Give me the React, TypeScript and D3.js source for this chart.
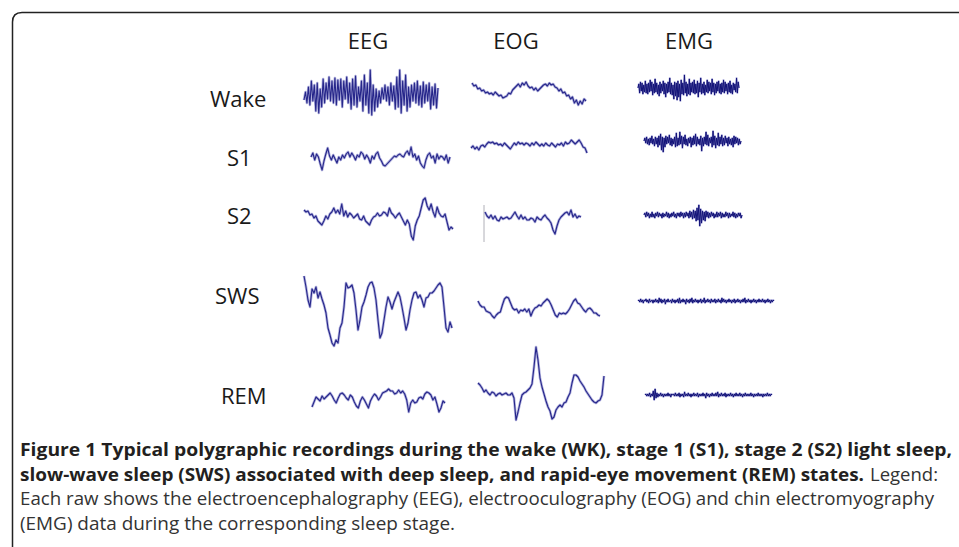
import React from "react";
import * as d3 from "d3";

const stages = ["Wake", "S1", "S2", "SWS", "REM"];
const channels = ["EEG", "EOG", "EMG"];

// traces (arbitrary units, up is positive)
const wakeEEG = [-5, 3, -8, 8, -10, 14, -6, 10, -16, 12, -18, 6, -12, 16, -8, 12, -4, 18, -6, 14, -8, 17, -10, 15, -5, 16, -12, 14, -4, 18, -8, 12, -14, 16, -10, 19, -12, 8, -6, 14, -16, 20, -10, 12, -18, 25, -20, 10, -16, 6, -12, 4, -8, 7, -4, 10, -6, 8, -10, 12, -6, 9, -14, 18, -12, 25, -18, 14, -10, 20, -16, 8, -12, 10, -6, 12, -8, 14, -10, 9, -12, 13, -8, 10, -6, 12, -14, 8, -10, 11, -13, 7];
const wakeEOG = [12, 9, 10, 6, 7, 4, 5, 2, 3, 1, 2, 0, 3, 1, -1, 0, -3, -2, -1, 2, 1, 5, 7, 9, 11, 8, 12, 10, 13, 9, 7, 8, 5, 7, 4, 6, 8, 10, 11, 9, 12, 10, 11, 8, 7, 4, 6, 2, 3, -1, 0, -4, -2, -8, -5, -10, -6, -9, -4, -6];
const wakeEMG = [0, 4, -5, 6, -3, 5, -6, 3, -4, 7, -5, 4, -6, 5, -4, 8, -3, 6, -7, 4, -5, 9, -4, 5, -6, 3, -8, 6, -5, 4, -3, 7, -6, 5, -9, 4, -5, 6, -4, 10, -6, 5, -7, 3, -11, 6, -8, 5, -12, 7, -9, 4, -13, 8, -6, 5, -7, 13, -5, 6, -8, 4, -6, 9, -7, 5, -4, 6, -5, 8, -6, 4, -5, 7, -9, 5, -4, 10, -6, 4, -5, 6, -7, 3, -4, 8, -5, 6, -3, 5, -6, 9, -4, 5, -7, 4, -5, 6, -3, 7, -5, 4, -6, 5, -4, 8, -5, 6, -3, 4, -6, 5, -4, 7, -5, 3, -6, 5, -2, 4, -4, 10, -5, 6, 0];

const s1EEG = [1, 5, -2, 4, 1, -6, -12, -3, 4, 10, 2, -2, 3, -1, -5, 1, -2, 3, 0, 4, 6, 1, 5, 2, -2, 3, 1, 6, 4, -1, 3, 0, -5, 2, -1, 4, 6, 0, -3, -7, -8, -6, -4, -2, 0, 2, 1, 3, 4, 2, 1, 5, 7, 3, 11, 1, 4, -2, 2, -5, -8, -10, -2, 3, 5, 0, 2, -5, 4, -1, 2, 1, -2, 3, -5, 1];
const s1EOG = [-3, -1, -4, -2, -5, -1, 0, -2, 1, 3, 2, 3, 1, 2, 0, 1, -1, 2, 0, -2, -4, -1, 2, 0, 3, 1, 2, 0, 2, 1, -1, 2, 0, 3, 1, -1, 1, -1, 2, 0, -1, 2, 0, -2, 1, 0, 2, -1, 3, 1, 2, 5, 3, 1, 3, 5, 2, -2, -3, -8];
const s1EMG = [0, 3, -2, 4, -3, 2, -4, 3, -2, 5, -3, 2, -5, 4, -3, 3, -6, 5, -4, 7, -9, 4, -11, 3, -6, 5, -3, 4, -2, 6, -4, 3, -5, 2, -3, 4, -6, 8, -5, 3, -4, 9, -3, 5, -7, 4, -3, 6, -4, 2, -5, 3, -2, 4, -6, 3, -4, 5, -3, 7, -5, 4, -3, 2, -4, 5, -10, 3, -5, 4, -3, 9, -4, 6, -5, 3, -2, 4, -6, 10, -4, 5, -7, 3, -4, 8, -5, 4, -3, 6, -5, 3, -4, 5, -2, 3, -5, 4, -3, 2, -4, 3, -6, 5, -3, 4, -2, 3, -4, 2, -3, 0];

const s2EEG = [8, 6, 7, 3, 4, 0, 2, -3, -5, -7, -3, 2, -1, 4, 6, 10, 5, 8, 4, 14, 2, 7, 1, 5, 3, 0, 2, 4, -1, -2, 2, -3, -5, -7, -2, 1, 2, 5, 2, 3, 6, 5, 2, 10, 5, 3, 0, 3, 5, 1, -3, -7, -2, -6, -18, -22, -8, -2, 2, 10, 18, 20, 12, 8, 14, 6, 1, 11, 5, 2, 1, 4, -4, -12, -9, -11];
const s2EOG = [6, 2, 0, 3, -1, 2, -2, -3, 1, -1, 0, 1, -1, 0, 3, 6, 2, -1, 3, -1, 1, -2, -2, 0, -1, -4, 1, -1, -2, 1, 3, 0, -2, -5, -12, -16, -8, -2, 1, 3, 5, 6, 3, 8, 1, 4, 0, 2, 1];
const s2EMG = [0, 2, -2, 3, -1, 2, -3, 1, -2, 3, -2, 1, -3, 2, -1, 3, -2, 2, -1, 1, -3, 2, -2, 1, -1, 3, -2, 2, -3, 1, -2, 2, -1, 3, -2, 1, -3, 2, -1, 2, -2, 3, -1, 2, -3, 2, -2, 3, -1, 2, -3, 4, -2, 3, -4, 5, -3, 4, -6, 7, -5, 10, -11, 6, -8, 4, -5, 3, -6, 4, -2, 3, -3, 2, -2, 3, -1, 2, -3, 1, -2, 3, -2, 2, -1, 3, -3, 2, -2, 1, -2, 3, -1, 2, -3, 2, -2, 1, -1, 3, -2, 2, -3, 1, -2, 2, -1, 2, -3, 0];

const swsEEG = [34, 23, 10, 3, 21, 17, 23, 12, 18, 11, 5, -3, -18, -25, -33, -36, -30, -33, -18, -13, 3, 27, 22, 23, 25, 17, 0, -20, -10, 3, 8, 15, 23, 27, 28, 22, 10, -10, -28, -23, -10, 3, 13, 8, 1, 8, 13, 18, 13, 3, -8, -20, -13, 0, 10, 17, 18, 12, 15, 10, 3, 12, 13, 17, 17, 19, 22, 25, 27, 23, 3, -18, -22, -12, -18];
const swsEOG = [7, 3, 1, 1, -3, -4, -5, -8, -10, -7, -5, -4, 3, 9, 11, 10, 5, 0, -2, -1, -5, -2, -3, -1, -4, -1, -8, -3, 0, 1, 3, 2, 5, 7, 9, 7, 3, -2, -7, -9, -5, -6, -5, -6, -4, -1, 3, 7, 9, 5, 4, 1, -2, -4, -1, 0, -2, -5, -5, -7, -8];
const swsEMG = [0, 1, -1, 2, -1, 1, -2, 1, 0, 2, -1, 1, -2, 2, -1, 0, 1, -2, 1, -1, 2, -1, 1, -2, 3, -1, 2, -2, 1, -1, 2, -3, 1, -1, 2, -1, 0, 1, -2, 2, -1, 1, -2, 1, -1, 2, -2, 3, -2, 1, -1, 2, -1, 1, -3, 2, -1, 1, -2, 2, -1, 3, -2, 1, -1, 2, -1, 1, -2, 1, -1, 2, -2, 1, -1, 3, -2, 1, -1, 2, -1, 1, -2, 2, -1, 1, -1, 2, -2, 1, -1, 2, -1, 1, -2, 3, -1, 2, -1, 1, -2, 1, -1, 2, -1, 1, -2, 1, -1, 2, -2, 1, -1, 2, -1, 1, -2, 1, -1, 2, -1, 3, -2, 1, -1, 2, -1, 1, -2, 1, -1, 2, -1, 1, -2, 1, -1, 2, -1, 1, -1, 2, -1, 1, -2, 1, -1, 2, -1, 1, -2, 1, -1, 1, 0];

const remEEG = [-6, -1, 4, 2, 0, 5, 2, 4, 6, 8, 5, 1, -2, 3, 7, 8, 6, 3, 1, 6, 4, -1, -5, -7, 0, 4, 1, -3, -7, 0, 4, 7, 5, 1, 4, 8, 9, 10, 12, 10, 10, 7, 8, 11, 8, 10, 7, 1, -11, -2, 1, -2, -1, 3, 4, 2, 7, 9, 8, 6, 1, 4, -3, -11, -7, 0, -2];
const remEOG = [7, 5, 2, -2, 0, -3, -5, -2, -3, -6, -4, -3, -5, -4, -3, -5, -5, -3, -8, -30, -22, -13, -5, -3, -2, 0, 2, 6, 23, 43, 30, 12, 3, -4, -11, -17, -21, -29, -27, -20, -17, -15, -17, -13, -12, -7, -3, 7, 15, 15, 13, 9, 6, 3, -1, -4, -7, -10, -12, -13, -11, -10, -5, 14];
const remEMG = [0, 1, -1, 1, -1, 2, -2, 1, -1, 4, -5, 6, -3, 2, -2, 1, -1, 2, -1, 1, -2, 1, -1, 1, -1, 2, -1, 1, -2, 1, 0, 1, -1, 2, -1, 1, -1, 2, -2, 1, -1, 1, -2, 3, -1, 1, -1, 2, -1, 1, -2, 1, -1, 2, -1, 1, -1, 2, -2, 1, -1, 1, -1, 2, -1, 1, -3, 2, -1, 1, -2, 1, -1, 2, -1, 1, -1, 2, -1, 3, -2, 1, -1, 2, -1, 1, -1, 2, -2, 1, -1, 1, -1, 2, -1, 1, -2, 1, -1, 2, -1, 1, -1, 2, -1, 1, -2, 1, -1, 2, -1, 1, -1, 1, -1, 2, -1, 1, -2, 1, -1, 1, -1, 2, -1, 1, -1, 1, -2, 1, -1, 1, -1, 2, -1, 1, -1, 1, 0];

const captionBold1 = "Figure 1 Typical polygraphic recordings during the wake (WK), stage 1 (S1), stage 2 (S2) light sleep,";
const captionBold2 = "slow-wave sleep (SWS) associated with deep sleep, and rapid-eye movement (REM) states.";
const captionLegend = "Legend:";
const captionText3 = "Each raw shows the electroencephalography (EEG), electrooculography (EOG) and chin electromyography";
const captionText4 = "(EMG) data during the corresponding sleep stage.";

const W = 959;
const H = 547;
const font = "'Open Sans', 'Noto Sans', sans-serif";

// placement of each trace in the panel
const traces = [
  { data: wakeEEG, x0: 304, x1: 438, cy: 95, emg: false },
  { data: wakeEOG, x0: 472, x1: 586, cy: 95, emg: false },
  { data: wakeEMG, x0: 638, x1: 739, cy: 88, emg: true },
  { data: s1EEG, x0: 311, x1: 450, cy: 158, emg: false },
  { data: s1EOG, x0: 471, x1: 587, cy: 145, emg: false },
  { data: s1EMG, x0: 644, x1: 741, cy: 141, emg: true },
  { data: s2EEG, x0: 304, x1: 453, cy: 218, emg: false },
  { data: s2EOG, x0: 485, x1: 581, cy: 218, emg: false, marker: true },
  { data: s2EMG, x0: 644, x1: 742, cy: 215, emg: true },
  { data: swsEEG, x0: 304, x1: 452, cy: 310, emg: false },
  { data: swsEOG, x0: 478, x1: 600, cy: 308, emg: false },
  { data: swsEMG, x0: 638, x1: 774, cy: 301, emg: true },
  { data: remEEG, x0: 312, x1: 445, cy: 401, emg: false },
  { data: remEOG, x0: 478, x1: 604, cy: 390, emg: false },
  { data: remEMG, x0: 645, x1: 772, cy: 395, emg: true },
];

const headerX = [368, 516, 689];
const rowLabel = [
  { x: 210, y: 107 },
  { x: 227, y: 166 },
  { x: 227, y: 224 },
  { x: 215, y: 304 },
  { x: 221, y: 404 },
];

const Trace = ({ t }) => {
  const x = d3.scaleLinear().domain([0, t.data.length - 1]).range([t.x0, t.x1]);
  const y = d3.scaleLinear().domain([0, 1]).range([t.cy, t.cy - 1]);
  const line = d3.line<number>().x((d, i) => x(i)).y(d => y(d));
  const d = line(t.data) || "";
  return (
    <g>
      {t.marker && (
        <line x1={x(0) - 1} x2={x(0) - 1} y1={t.cy - 13} y2={t.cy + 24} stroke="#b0b0b8" strokeWidth={1} />
      )}
      {/* soft halo like the scanned original */}
      <path d={d} fill="none" stroke="#9c9cd4" strokeWidth={t.emg ? 2 : 2.6} strokeLinejoin="round" opacity={0.8} />
      <path
        d={d}
        fill="none"
        stroke={t.emg ? "#121278" : "#26268a"}
        strokeWidth={t.emg ? 1 : 1.1}
        strokeLinejoin="round"
      />
    </g>
  );
};

export default function App() {
  return (
    <svg
      width={W}
      height={H}
      viewBox={`0 0 ${W} ${H}`}
      style={{ position: "absolute", left: 0, top: 0, background: "#fff" }}
    >
      <rect width={W} height={H} fill="#fff" />
      <path d={`M12.5,${H} V22 Q12.5,12.5 22,12.5 H${W}`} fill="none" stroke="#222" strokeWidth={1.5} />

      {channels.map((c, i) => (
        <text key={c} x={headerX[i]} y={49} textAnchor="middle" fontFamily={font} fontSize={22} fill="#1a1a1a">
          {c}
        </text>
      ))}
      {stages.map((s, i) => (
        <text key={s} x={rowLabel[i].x} y={rowLabel[i].y} fontFamily={font} fontSize={22} fill="#1a1a1a">
          {s}
        </text>
      ))}

      {traces.map((t, i) => (
        <Trace key={i} t={t} />
      ))}

      <g fontFamily={font} fontSize={18}>
        <text x={20} y={456} fontWeight={700} fill="#231f20" textLength={932} lengthAdjust="spacingAndGlyphs">
          {captionBold1}
        </text>
        <text x={20} y={481} fontWeight={700} fill="#231f20" textLength={844} lengthAdjust="spacingAndGlyphs">
          {captionBold2}
        </text>
        <text x={870} y={481} fill="#333" textLength={68} lengthAdjust="spacingAndGlyphs">
          {captionLegend}
        </text>
        <text x={20} y={505} fill="#333" textLength={914} lengthAdjust="spacingAndGlyphs">
          {captionText3}
        </text>
        <text x={20} y={530} fill="#333" textLength={435} lengthAdjust="spacingAndGlyphs">
          {captionText4}
        </text>
      </g>
    </svg>
  );
}
